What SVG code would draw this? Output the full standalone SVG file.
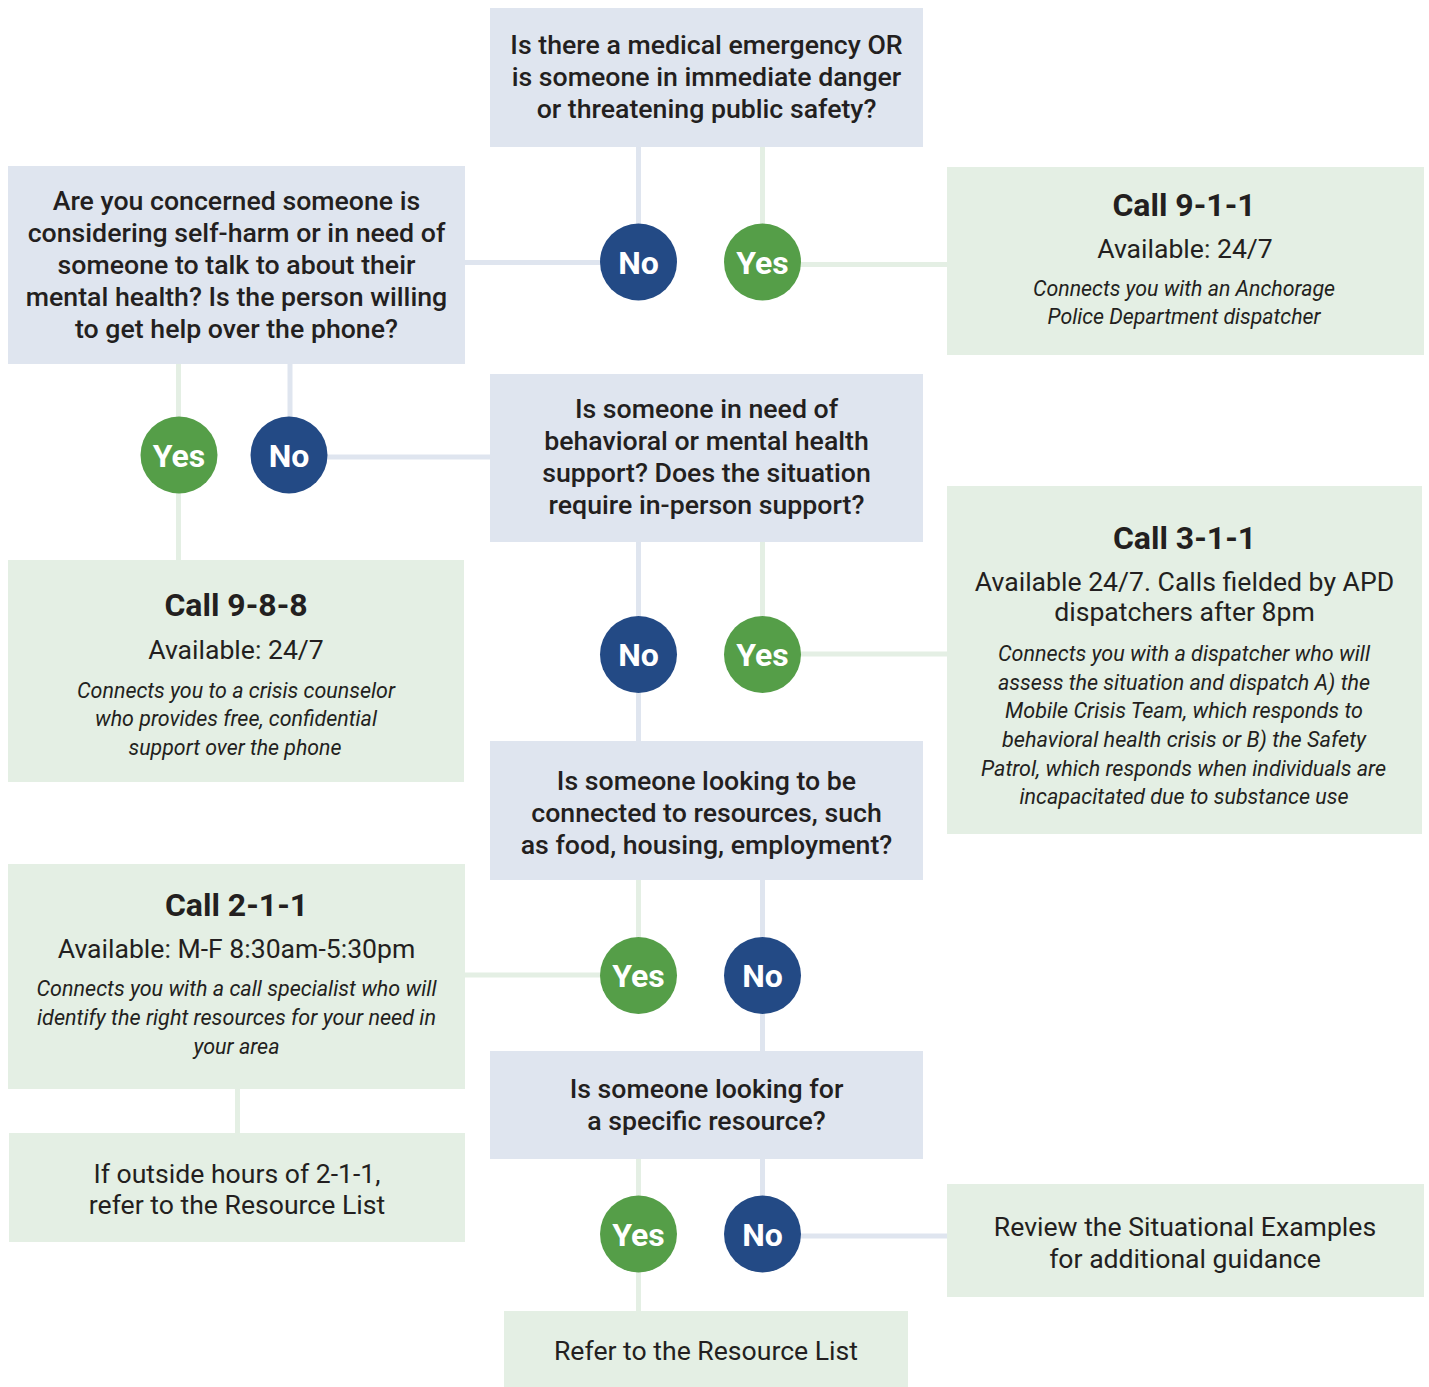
<svg xmlns="http://www.w3.org/2000/svg" width="1429" height="1387" viewBox="0 0 1429 1387">
<style>
.bq{fill:#dfe5ef}
.bg{fill:#e4efe4}
.ln{stroke:#dfe5ef;stroke-width:5;fill:none}
.lg{stroke:#e4efe4;stroke-width:5;fill:none}
.cn{fill:#234a85}
.cy{fill:#559e48}
text{font-family:Roboto,"Liberation Sans",sans-serif;fill:#231f20;text-anchor:middle}
.q{font-size:26.7px;font-weight:500}
.t{font-size:32px;font-weight:700}
.r{font-size:26.6px;font-weight:400}
.i{font-size:21.5px;font-style:italic}
.cl{font-size:32px;font-weight:700;fill:#fff}
</style>
<rect width="1429" height="1387" fill="#fff"/>
<g id="connectors">
<path class="ln" d="M638.5 147V262M465 262.5H638.5"/>
<path class="lg" d="M762.5 147V262M762.5 264.5H947"/>
<path class="lg" d="M178.5 364V560"/>
<path class="ln" d="M290 364V455M290 457H490"/>
<path class="ln" d="M638.5 542V741"/>
<path class="lg" d="M762.5 542V654M762.5 654H947"/>
<path class="lg" d="M638.5 880V975M465 975H638.5"/>
<path class="ln" d="M762.5 880V1051"/>
<path class="lg" d="M237.5 1089V1133"/>
<path class="lg" d="M638.5 1159V1311"/>
<path class="ln" d="M762.5 1159V1236M762.5 1236H947"/>
</g>
<g id="q1"><rect class="bq" x="490" y="8" width="433" height="139"/>
<text class="q" x="706.5" y="54">Is there a medical emergency OR</text>
<text class="q" x="706.5" y="86">is someone in immediate danger</text>
<text class="q" x="706.5" y="118">or threatening public safety?</text></g>
<g id="q1-no"><circle class="cn" cx="638.5" cy="262" r="38.5"/><text class="cl" x="638.5" y="273.5">No</text></g>
<g id="q1-yes"><circle class="cy" cx="762.5" cy="262" r="38.5"/><text class="cl" x="762.5" y="273.5">Yes</text></g>
<g id="call911"><rect class="bg" x="947" y="167" width="477" height="188"/>
<text class="t" x="1184" y="216">Call 9-1-1</text>
<text class="r" x="1185" y="258">Available: 24/7</text>
<text class="i" x="1184" y="296" textLength="302" lengthAdjust="spacingAndGlyphs">Connects you with an Anchorage</text>
<text class="i" x="1184" y="324" textLength="273" lengthAdjust="spacingAndGlyphs">Police Department dispatcher</text></g>
<g id="q2"><rect class="bq" x="8" y="166" width="457" height="198"/>
<text class="q" x="236.5" y="210">Are you concerned someone is</text>
<text class="q" x="236.5" y="242">considering self-harm or in need of</text>
<text class="q" x="236.5" y="274">someone to talk to about their</text>
<text class="q" x="236.5" y="306">mental health? Is the person willing</text>
<text class="q" x="236.5" y="338">to get help over the phone?</text></g>
<g id="q2-yes"><circle class="cy" cx="179" cy="455" r="38.5"/><text class="cl" x="179" y="466.5">Yes</text></g>
<g id="q2-no"><circle class="cn" cx="289" cy="455" r="38.5"/><text class="cl" x="289" y="466.5">No</text></g>
<g id="call988"><rect class="bg" x="8" y="560" width="456" height="222"/>
<text class="t" x="236" y="616">Call 9-8-8</text>
<text class="r" x="236" y="659">Available: 24/7</text>
<text class="i" x="236" y="698" textLength="318" lengthAdjust="spacingAndGlyphs">Connects you to a crisis counselor</text>
<text class="i" x="236" y="726" textLength="282" lengthAdjust="spacingAndGlyphs">who provides free, confidential</text>
<text class="i" x="235" y="755" textLength="213" lengthAdjust="spacingAndGlyphs">support over the phone</text></g>
<g id="q3"><rect class="bq" x="490" y="374" width="433" height="168"/>
<text class="q" x="706.5" y="418">Is someone in need of</text>
<text class="q" x="706.5" y="450">behavioral or mental health</text>
<text class="q" x="706.5" y="482">support? Does the situation</text>
<text class="q" x="706.5" y="514">require in-person support?</text></g>
<g id="q3-no"><circle class="cn" cx="638.5" cy="654.5" r="38.5"/><text class="cl" x="638.5" y="666">No</text></g>
<g id="q3-yes"><circle class="cy" cx="762.5" cy="654.5" r="38.5"/><text class="cl" x="762.5" y="666">Yes</text></g>
<g id="call311"><rect class="bg" x="947" y="486" width="475" height="348"/>
<text class="t" x="1184.5" y="549">Call 3-1-1</text>
<text class="r" x="1184.5" y="591">Available 24/7. Calls fielded by APD</text>
<text class="r" x="1184.5" y="621">dispatchers after 8pm</text>
<text class="i" x="1184" y="661" textLength="372" lengthAdjust="spacingAndGlyphs">Connects you with a dispatcher who will</text>
<text class="i" x="1184" y="690" textLength="372" lengthAdjust="spacingAndGlyphs">assess the situation and dispatch A) the</text>
<text class="i" x="1184" y="718" textLength="358" lengthAdjust="spacingAndGlyphs">Mobile Crisis Team, which responds to</text>
<text class="i" x="1184" y="747" textLength="364" lengthAdjust="spacingAndGlyphs">behavioral health crisis or B) the Safety</text>
<text class="i" x="1183.5" y="776" textLength="405" lengthAdjust="spacingAndGlyphs">Patrol, which responds when individuals are</text>
<text class="i" x="1184" y="804" textLength="329" lengthAdjust="spacingAndGlyphs">incapacitated due to substance use</text></g>
<g id="q4"><rect class="bq" x="490" y="741" width="433" height="139"/>
<text class="q" x="706.5" y="790">Is someone looking to be</text>
<text class="q" x="706.5" y="822">connected to resources, such</text>
<text class="q" x="706.5" y="854">as food, housing, employment?</text></g>
<g id="q4-yes"><circle class="cy" cx="638.5" cy="975.5" r="38.5"/><text class="cl" x="638.5" y="987">Yes</text></g>
<g id="q4-no"><circle class="cn" cx="762.5" cy="975.5" r="38.5"/><text class="cl" x="762.5" y="987">No</text></g>
<g id="call211"><rect class="bg" x="8" y="864" width="457" height="225"/>
<text class="t" x="236.5" y="916">Call 2-1-1</text>
<text class="r" x="236.5" y="958">Available: M-F 8:30am-5:30pm</text>
<text class="i" x="236.5" y="996" textLength="400" lengthAdjust="spacingAndGlyphs">Connects you with a call specialist who will</text>
<text class="i" x="236.5" y="1025" textLength="399" lengthAdjust="spacingAndGlyphs">identify the right resources for your need in</text>
<text class="i" x="236.5" y="1054" textLength="86" lengthAdjust="spacingAndGlyphs">your area</text></g>
<g id="outside211"><rect class="bg" x="9" y="1133" width="456" height="109"/>
<text class="r" x="237" y="1183">If outside hours of 2-1-1,</text>
<text class="r" x="237" y="1214">refer to the Resource List</text></g>
<g id="q5"><rect class="bq" x="490" y="1051" width="433" height="108"/>
<text class="q" x="706.5" y="1098">Is someone looking for</text>
<text class="q" x="706.5" y="1130">a specific resource?</text></g>
<g id="q5-yes"><circle class="cy" cx="638.5" cy="1234" r="38.5"/><text class="cl" x="638.5" y="1245.5">Yes</text></g>
<g id="q5-no"><circle class="cn" cx="762.5" cy="1234" r="38.5"/><text class="cl" x="762.5" y="1245.5">No</text></g>
<g id="resource-list"><rect class="bg" x="504" y="1311" width="404" height="76"/>
<text class="r" x="706" y="1360">Refer to the Resource List</text></g>
<g id="situational"><rect class="bg" x="947" y="1184" width="477" height="113"/>
<text class="r" x="1185" y="1236">Review the Situational Examples</text>
<text class="r" x="1185" y="1268">for additional guidance</text></g>
</svg>
